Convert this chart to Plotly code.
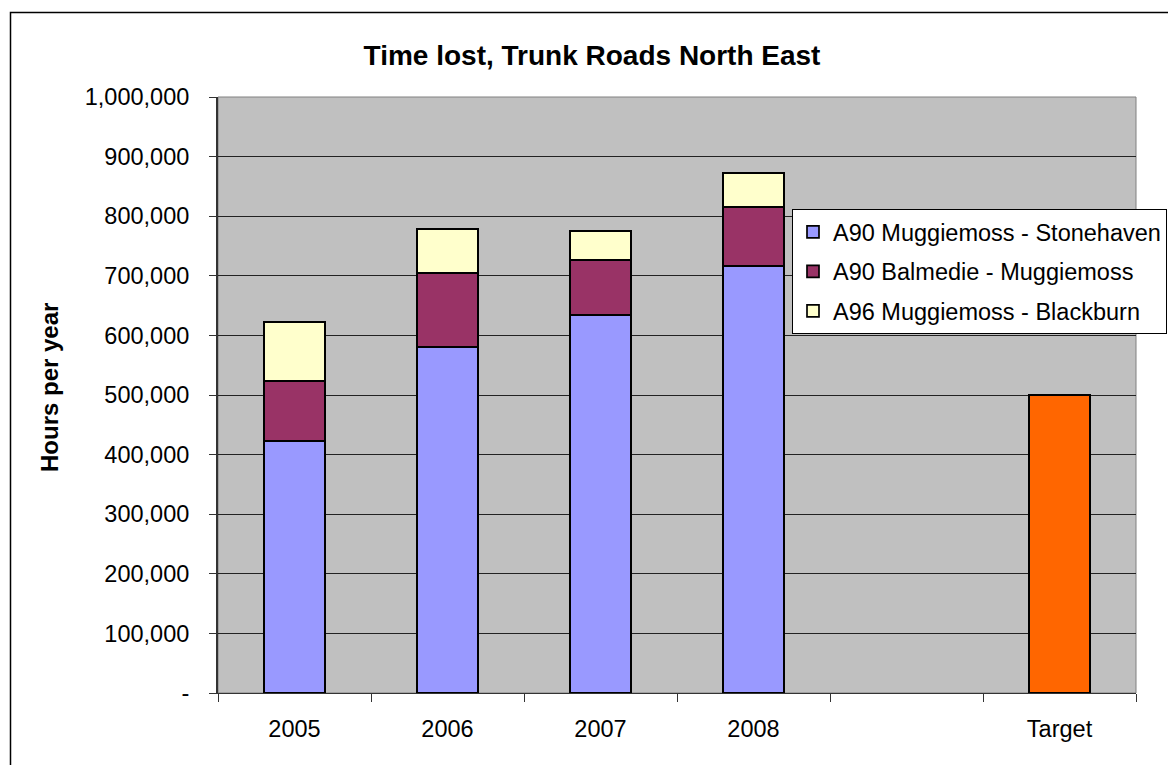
import plotly.graph_objects as go

categories = ["2005", "2006", "2007", "2008", " ", "Target"]
stonehaven = [423000, 581000, 634000, 716000, None, None]
balmedie = [101000, 124000, 92500, 99000, None, None]
blackburn = [98500, 73000, 48500, 58000, None, None]
target = [None, None, None, None, None, 500000]
y_tickvals = [0, 100000, 200000, 300000, 400000, 500000, 600000, 700000, 800000, 900000, 1000000]
y_ticktext = ["-", "100,000", "200,000", "300,000", "400,000", "500,000",
              "600,000", "700,000", "800,000", "900,000", "1,000,000"]

FONT = "Liberation Sans, Arial, sans-serif"
OFF = 8  # page body margin
W, H = 1176 - OFF, 765 - OFF
# target screen pixel positions
L, R, T, B = 218, 1136, 97, 693
Lf, Rf, Tf, Bf = L - OFF, R - OFF, T - OFF, B - OFF

fig = go.Figure()
line = dict(color="black", width=1.7)
fig.add_trace(go.Bar(x=categories, y=stonehaven, name="A90 Muggiemoss - Stonehaven",
                     marker=dict(color="#9999FF", line=line), legendgroup="a"))
fig.add_trace(go.Bar(x=categories, y=balmedie, name="A90 Balmedie - Muggiemoss",
                     marker=dict(color="#993366", line=line), legendgroup="b"))
fig.add_trace(go.Bar(x=categories, y=blackburn, name="A96 Muggiemoss - Blackburn",
                     marker=dict(color="#FFFFCC", line=line), legendgroup="c"))
fig.add_trace(go.Bar(x=categories, y=target, name="Target", showlegend=False,
                     marker=dict(color="#FF6600", line=line)))

pw, ph = R - L, B - T
def px(x):  # screen x -> paper
    return (x - L) / pw
def py(y):  # screen y -> paper
    return (B - y) / ph
def cx(x):  # screen x -> container
    return (x - OFF) / W
def cy(y):
    return 1 - (y - OFF) / H

fig.update_layout(
    width=W, height=H,
    margin=dict(l=Lf, r=W - Rf, t=Tf, b=H - Bf, pad=0, autoexpand=False),
    barmode="stack", bargap=0.605,
    paper_bgcolor="white", plot_bgcolor="#C0C0C0",
    font=dict(family=FONT, size=23.5, color="black"),
    title=dict(text="<b>Time lost, Trunk Roads North East</b>", x=cx(592), xref="container",
               y=cy(55), yref="container", xanchor="center", yanchor="middle",
               font=dict(size=28, family=FONT, color="black")),
    showlegend=True,
    legend=dict(x=cx(792), y=cy(209), xref="container", yref="container",
                xanchor="left", yanchor="top",
                bgcolor="white", bordercolor="black", borderwidth=1,
                traceorder="reversed+grouped", tracegroupgap=6,
                font=dict(size=23.5, family=FONT, color="black")),
    xaxis=dict(type="category", categoryorder="array", categoryarray=categories,
               tickson="boundaries", ticks="outside", ticklen=8, tickcolor="#333333",
               showline=True, linecolor="#333333", linewidth=1, showgrid=False,
               ticklabelstandoff=15, tickfont=dict(size=23.5, family=FONT)),
    yaxis=dict(range=[0, 1000000], tickvals=y_tickvals, ticktext=y_ticktext,
               ticks="outside", ticklen=7, tickcolor="#333333",
               showline=True, linecolor="#333333", linewidth=2,
               showgrid=True, gridcolor="#222222", gridwidth=1, zeroline=False,
               ticklabelstandoff=15, tickfont=dict(size=23.5, family=FONT)),
    annotations=[dict(text="<b>Hours per year</b>", textangle=-90, xref="paper", yref="paper",
                      x=px(49), y=py(388), xanchor="center", yanchor="middle",
                      showarrow=False, font=dict(size=24, family=FONT, color="black"))],
    shapes=[
        dict(type="rect", xref="paper", yref="paper", x0=0, x1=1, y0=0, y1=1,
             line=dict(color="#808080", width=1), layer="below"),
        dict(type="rect", xref="paper", yref="paper", x0=px(10.5), x1=px(1300),
             y0=py(900), y1=py(12.5), line=dict(color="black", width=1.5), layer="above"),
    ],
)

fig.write_html("out.html")
